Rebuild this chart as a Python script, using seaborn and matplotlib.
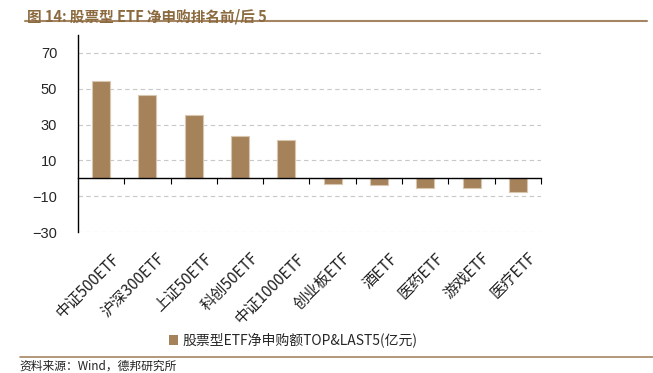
import numpy as np
import pandas as pd
import matplotlib
matplotlib.use("Agg")
import matplotlib.pyplot as plt
import matplotlib.transforms as mtransforms
import seaborn as sns
from matplotlib.lines import Line2D
from matplotlib.patches import Patch

# data
categories = ["中证500ETF", "沪深300ETF", "上证50ETF", "科创50ETF", "中证1000ETF",
              "创业板ETF", "酒ETF", "医药ETF", "游戏ETF", "医疗ETF"]
net_subscription = [54.4, 46.3, 35.4, 23.5, 21.5, -3.2, -3.7, -5.4, -5.4, -7.4]
y_ticks = [70, 50, 30, 10, -10, -30]
series_name = "股票型ETF净申购额TOP&LAST5(亿元)"
title = "图 14: 股票型 ETF 净申购排名前/后 5"
source = "资料来源：Wind，德邦研究所"

bar_color = "#A5825A"
brown = "#A58562"

sns.set_theme(style="white")
plt.rcParams["font.family"] = ["Noto Sans CJK SC", "DejaVu Sans"]
plt.rcParams["axes.unicode_minus"] = True

df = pd.DataFrame({"name": categories, "value": net_subscription})

fig = plt.figure(figsize=(6.53, 3.73), dpi=100)
ax = fig.add_axes([0.1194, 0.378, 0.7091, 0.528])

sns.barplot(data=df, x="name", y="value", color=bar_color, width=0.39,
            edgecolor="#D9C6AE", linewidth=0.8, saturation=1, ax=ax)

ax.set_ylim(-30, 80)
ax.set_xlim(-0.5, len(categories) - 0.5)
ax.set_yticks(y_ticks)
ax.set_yticklabels([f"{v}".replace("-", "\u2212") for v in y_ticks],
                   family="Liberation Sans", fontsize=10.5)
ax.yaxis.grid(True, linestyle=(0, (4, 3)), color="#C8C8C8", linewidth=0.8)
ax.set_axisbelow(True)
ax.tick_params(axis="y", direction="out", length=4, width=0.8, color="black", pad=11)
ax.set_xlabel("")
ax.set_ylabel("")

# zero line acting as the category axis, with boundary ticks
for s in ["top", "right"]:
    ax.spines[s].set_visible(False)
ax.spines["left"].set_color("black")
ax.spines["left"].set_linewidth(1.0)
ax.spines["bottom"].set_position(("data", 0))
ax.spines["bottom"].set_color("black")
ax.spines["bottom"].set_linewidth(1.0)
ax.set_xticks(np.arange(len(categories)) + 0.5, minor=True)
ax.set_xticks(np.arange(len(categories)))
ax.set_xticklabels([])
ax.tick_params(axis="x", which="major", length=0)
ax.tick_params(axis="x", which="minor", direction="out", length=4, width=0.8,
               color="black", bottom=True)

# category labels below the plot
sec = ax.secondary_xaxis("bottom")
sec.set_xticks(np.arange(len(categories)))
sec.set_xticklabels(categories, rotation=45, ha="right", rotation_mode="anchor",
                    fontsize=11, color="#222222")
sec.tick_params(length=0, pad=13)
sec.spines["bottom"].set_visible(False)
shift = mtransforms.ScaledTranslation(7 / 72, 0, fig.dpi_scale_trans)
for lbl in sec.get_xticklabels():
    lbl.set_transform(lbl.get_transform() + shift)

fig.legend(handles=[Patch(facecolor=bar_color, edgecolor="none")], labels=[series_name],
           loc="center", bbox_to_anchor=(0.449, 0.088), frameon=False, fontsize=10,
           handlelength=0.7, handleheight=0.7, handletextpad=0.3)

fig.text(0.041, 0.978, title, fontsize=10.5, fontweight="bold", color="#8C6A3F",
         va="top", ha="left")
fig.add_artist(Line2D([0.038, 0.991], [0.944, 0.944], color=brown, linewidth=1.5,
                      transform=fig.transFigure))
fig.add_artist(Line2D([0.03, 1.0], [0.043, 0.043], color=brown, linewidth=1.2,
                      transform=fig.transFigure))
fig.text(0.03, 0.002, source, fontsize=8.5, color="#222222", va="bottom", ha="left")

fig.savefig("out.png", dpi=100)
